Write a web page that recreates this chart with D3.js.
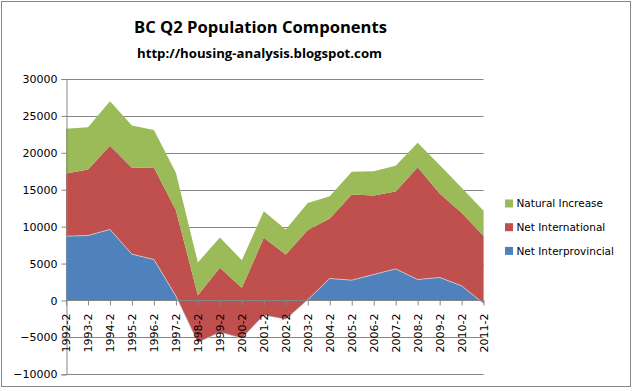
<!DOCTYPE html>
<html><head><meta charset="utf-8">
<script src="https://cdn.jsdelivr.net/npm/d3@7"></script>
<style>
html,body{margin:0;padding:0;background:#fff;}
svg{display:block;}
</style></head>
<body>
<svg id="chart" width="633" height="391"></svg>
<script>
const categories = ["1992-2","1993-2","1994-2","1995-2","1996-2","1997-2","1998-2","1999-2","2000-2","2001-2","2002-2","2003-2","2004-2","2005-2","2006-2","2007-2","2008-2","2009-2","2010-2","2011-2"];
const netInterprovincial = [8710,8800,9620,6270,5550,600,-5700,-4300,-5100,-2000,-2550,100,2980,2750,3520,4280,2840,3110,1980,-400];
const netInternational = [8500,8950,11330,11700,12470,11630,6420,8720,6810,10480,8780,9430,8130,11590,10710,10490,15200,11390,9890,9150];
const naturalIncrease = [6040,5730,6050,5740,5080,5070,4430,4120,3750,3600,3370,3670,3020,3090,3290,3470,3320,3850,3390,3390];
const yTicks = [-10000,-5000,0,5000,10000,15000,20000,25000,30000];
const seriesNames = ["Net Interprovincial","Net International","Natural Increase"];
const seriesColors = ["#4f81bd","#c0504d","#9bbb59"];
const titleText = "BC Q2 Population Components";
const subtitleText = "http://housing-analysis.blogspot.com";

const svg = d3.select("#chart");
svg.append("rect").attr("x",1.5).attr("y",1.5).attr("width",629).attr("height",385)
  .attr("fill","#fff").attr("stroke","#878787").attr("stroke-width",1);

const x = d3.scalePoint().domain(categories).range([66, 483.6]).padding(0);
const y = d3.scaleLinear().domain([-10000, 30000]).range([374.3, 79]);

function fit(sel, target){
  const w = sel.node().getComputedTextLength();
  const fs = parseFloat(sel.attr("font-size"));
  sel.attr("font-size", (fs*target/w).toFixed(2));
}

// title
const t1 = svg.append("text").attr("x",260.5).attr("y",33).attr("text-anchor","middle")
  .attr("font-family","Open Sans, sans-serif").attr("font-weight","bold").attr("font-size",20)
  .attr("fill","#000").text(titleText);
fit(t1, 253);
const t2 = svg.append("text").attr("x",259.5).attr("y",57.5).attr("text-anchor","middle")
  .attr("font-family","Open Sans, sans-serif").attr("font-weight","bold").attr("font-size",15)
  .attr("fill","#000").text(subtitleText);
fit(t2, 245);

// gridlines
svg.append("g").selectAll("line").data(yTicks).join("line")
  .attr("x1",66).attr("x2",483.6)
  .attr("y1",d=>Math.round(y(d))+0.5).attr("y2",d=>Math.round(y(d))+0.5)
  .attr("stroke","#868686").attr("stroke-width",1);

// stacked areas
const rows = categories.map((c,i)=>({cat:c, a:netInterprovincial[i], b:netInternational[i], c2:naturalIncrease[i]}));
const stack = d3.stack().keys(["a","b","c2"]).offset(d3.stackOffsetNone);
const stacked = stack(rows);
const area = d3.area().x(d=>x(d.data.cat)).y0(d=>y(d[0])).y1(d=>y(d[1]));
svg.append("g").selectAll("path").data(stacked).join("path")
  .attr("d", area).attr("fill",(d,i)=>seriesColors[i]);
// light edge on top of blue series
const topLine = d3.line().x(d=>x(d.data.cat)).y(d=>y(d[1]));
svg.append("path").attr("d", topLine(stacked[0])).attr("fill","none")
  .attr("stroke","#dfe3f0").attr("stroke-width",0.8).attr("opacity",0.8);

// y axis
const yAxis = d3.axisLeft(y).tickValues(yTicks).tickSize(5).tickPadding(4).tickFormat(d3.format("d"));
const gy = svg.append("g").attr("transform","translate(66.5,0)").call(yAxis);
gy.select(".domain").attr("stroke","#868686");
gy.selectAll(".tick line").attr("stroke","#868686");
gy.selectAll(".tick text").attr("font-family","DejaVu Sans, sans-serif").attr("font-size",11).attr("fill","#000")
  .attr("x",-9);

// x axis at zero
const xAxis = d3.axisBottom(x).tickSize(5).tickPadding(0);
const gx = svg.append("g").attr("transform",`translate(0,${Math.round(y(0))+0.5})`).call(xAxis);
gx.select(".domain").attr("stroke","#868686").attr("d","M66,0H483.6");
gx.selectAll(".tick line").attr("stroke","#868686");
gx.selectAll(".tick text").attr("font-family","DejaVu Sans, sans-serif").attr("font-size",11).attr("fill","#000")
  .attr("transform","rotate(-90)").attr("text-anchor","end").attr("dy","0.35em")
  .attr("x",-13).attr("y",0);

// legend
const legendOrder = [2,1,0];
const lg = svg.append("g");
legendOrder.forEach((si,k)=>{
  const cy = 203.5 + k*23.7;
  lg.append("rect").attr("x",505).attr("y",cy-4).attr("width",8).attr("height",8).attr("fill",seriesColors[si]);
  lg.append("text").attr("x",516.5).attr("y",cy).attr("dy","0.35em")
    .attr("font-family","DejaVu Sans, sans-serif").attr("font-size",10.5).attr("fill","#000").text(seriesNames[si]);
});
</script>
</body></html>
